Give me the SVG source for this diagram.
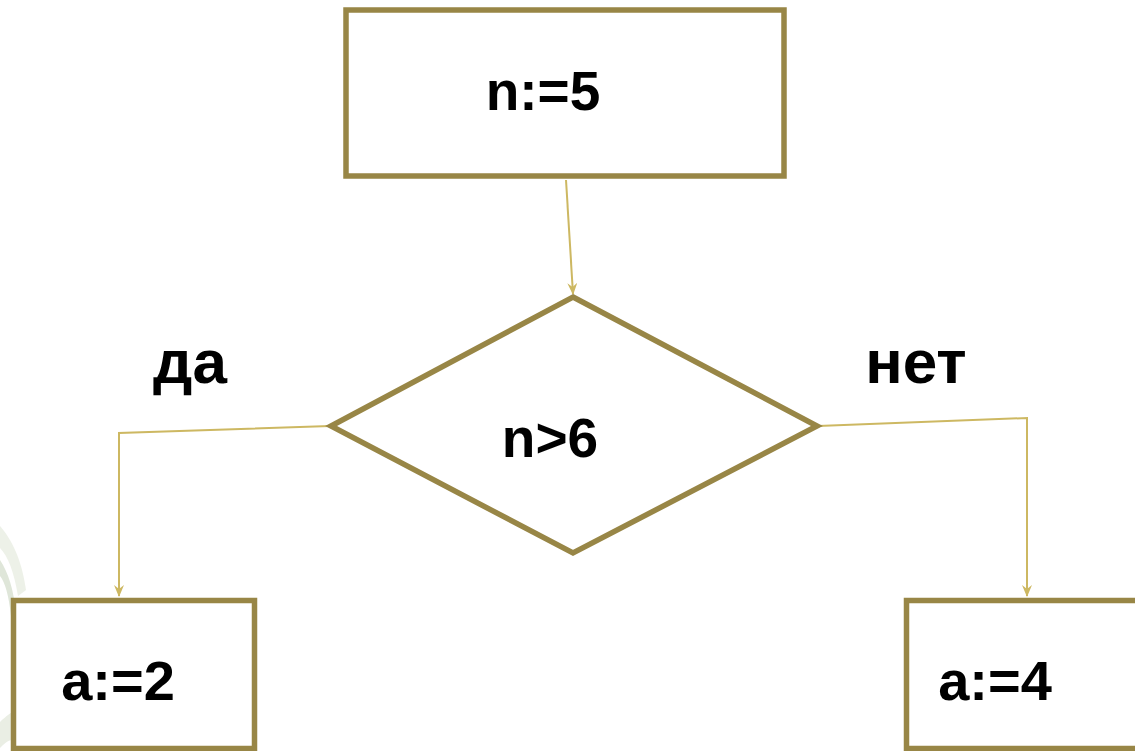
<svg xmlns="http://www.w3.org/2000/svg" width="1135" height="751" viewBox="0 0 1135 751">
<style>
.box{fill:#ffffff;stroke:#988646;stroke-width:5.5}
.conn{fill:none;stroke:#CDB862;stroke-width:2}
.t{font-family:"Liberation Sans",Arial,sans-serif;font-weight:bold;fill:#000000}
</style>
<defs>
<marker id="arr" viewBox="0 0 12 10" refX="11" refY="5" markerWidth="12" markerHeight="10" markerUnits="userSpaceOnUse" orient="auto">
<path d="M0,0 L12,5 L0,10 L4,5 Z" fill="#CDB862"/>
</marker>
</defs>
<rect x="0" y="0" width="1135" height="751" fill="#ffffff"/>
<g id="watermark" opacity="0.9">
<path d="M0,526 C12,540 22,560 26,590 L18,596 C14,572 8,556 0,548 Z" fill="#ECF0E6"/>
<path d="M0,560 C8,572 14,590 16,614 L11,616 C9,596 5,582 0,576 Z" fill="#DCE4D5"/>
<path d="M0,722 C6,716 12,712 16,710 L12,740 C8,740 4,744 0,748 Z" fill="#E8EDE2"/>
</g>
<g id="connectors">
<path class="conn" d="M566,180 L573,294" marker-end="url(#arr)"/>
<path class="conn" d="M330,426 L119,433 L119,596" marker-end="url(#arr)"/>
<path class="conn" d="M818,426 L1027,418 L1027,596" marker-end="url(#arr)"/>
</g>
<g id="node-start">
<rect class="box" x="346" y="10" width="438" height="166"/>
<text class="t" x="543" y="110" font-size="55" text-anchor="middle">n:=5</text>
</g>
<g id="node-cond">
<polygon class="box" points="573,297 817,426 573,553 331,426"/>
<text class="t" x="550" y="457" font-size="55" text-anchor="middle">n&gt;6</text>
</g>
<g id="node-yes">
<rect class="box" x="13.5" y="600.5" width="241" height="148"/>
<text class="t" x="118" y="700" font-size="56" text-anchor="middle">a:=2</text>
</g>
<g id="node-no">
<rect class="box" x="906.5" y="600.5" width="250" height="148"/>
<text class="t" x="995" y="700" font-size="56" text-anchor="middle">a:=4</text>
</g>
<g id="labels">
<text class="t" x="190" y="383" font-size="62" text-anchor="middle">да</text>
<text class="t" x="916" y="383" font-size="62" text-anchor="middle">нет</text>
</g>
</svg>
